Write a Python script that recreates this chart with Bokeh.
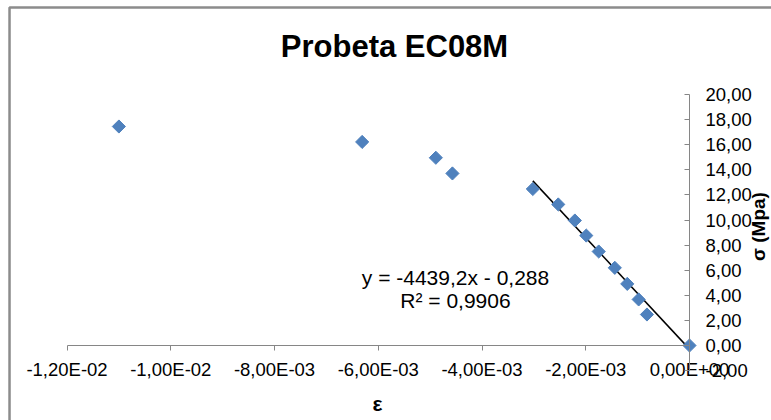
import math
from bokeh.plotting import figure
from bokeh.models import LinearAxis, FixedTicker, Label, Range1d
from bokeh.embed import file_html
from bokeh.resources import INLINE

# ---------------- data ----------------
title_text = "Probeta EC08M"
x_title = "ε"
y_title = "σ (Mpa)"

strain = [-0.01100, -0.00631, -0.00489, -0.00457, -0.00302, -0.00253, -0.00221,
          -0.00199, -0.00175, -0.00144, -0.00120, -0.00098, -0.00082, 0.0]
stress = [17.45, 16.22, 14.96, 13.71, 12.47, 11.24, 9.96,
          8.76, 7.49, 6.19, 4.91, 3.67, 2.47, 0.0]

# linear trendline (Excel) fitted on the last 10 points
fit_start = 4
slope = -4439.2
intercept = -0.288
eq_line1 = "y = -4439,2x - 0,288"
eq_line2 = "R² = 0,9906"

x_ticks = [-0.012, -0.010, -0.008, -0.006, -0.004, -0.002, 0.0]
x_tick_labels = ["-1,20E-02", "-1,00E-02", "-8,00E-03", "-6,00E-03",
                 "-4,00E-03", "-2,00E-03", "0,00E+00"]
y_ticks = [-2, 0, 2, 4, 6, 8, 10, 12, 14, 16, 18, 20]
y_tick_labels = ["-2,00", "0,00", "2,00", "4,00", "6,00", "8,00", "10,00",
                 "12,00", "14,00", "16,00", "18,00", "20,00"]

# ---------------- styling ----------------
FONT = "Liberation Sans"
AXIS_GRAY = "#868686"
BLUE = "#4F81BD"

# frame covers whole canvas: 0 at x=689px, 51875 px per unit strain;
# y = 0 at 345px from top, 12.55 px per MPa
p = figure(width=771, height=420, output_backend="svg", toolbar_location=None,
           x_range=Range1d(-0.013282, 0.0015807), y_range=Range1d(-5.976, 27.49),
           x_axis_location=None, y_axis_location=None,
           min_border=0, min_border_left=0, min_border_right=0,
           min_border_top=0, min_border_bottom=0)
p.outline_line_color = None
p.xgrid.visible = False
p.ygrid.visible = False
p.background_fill_color = "white"
p.border_fill_color = "white"

# chart area border (only top/left edges visible in the window)
p.quad(left=[-0.013108], right=[0.01], top=[26.93], bottom=[-100],
       fill_color=None, line_color="#8c8c8c", line_width=2.5)

xaxis = LinearAxis(ticker=FixedTicker(ticks=x_ticks),
                   major_label_overrides=dict(zip(x_ticks, x_tick_labels)),
                   fixed_location=0, bounds=(-0.012, 0.0),
                   axis_line_color=AXIS_GRAY, major_tick_line_color=AXIS_GRAY,
                   major_tick_out=5, major_tick_in=0,
                   minor_tick_line_color=None,
                   major_label_text_font=FONT, major_label_text_font_size="18.5px",
                   major_label_text_color="black", major_label_standoff=8)
p.add_layout(xaxis, "below")

yaxis = LinearAxis(ticker=FixedTicker(ticks=y_ticks),
                   major_label_overrides=dict(zip(y_ticks, y_tick_labels)),
                   fixed_location=0, bounds=(-2, 20),
                   axis_line_color=AXIS_GRAY, major_tick_line_color=AXIS_GRAY,
                   major_tick_out=0, major_tick_in=5,
                   minor_tick_line_color=None,
                   major_label_text_font=FONT, major_label_text_font_size="18.5px",
                   major_label_text_color="black", major_label_standoff=16)
p.add_layout(yaxis, "right")

# trendline
fx = strain[fit_start:]
tx = [min(fx), max(fx)]
ty = [slope * v + intercept for v in tx]
p.line(tx, ty, line_color="black", line_width=1.5)

# points (diamonds)
p.scatter(strain, stress, marker="square", angle=math.pi / 4, size=9.3,
          fill_color=BLUE, line_color=BLUE)

# texts
p.add_layout(Label(x=-0.005687, y=23.82, text=title_text, text_align="center",
                   text_baseline="middle", text_font=FONT, text_font_style="bold",
                   text_font_size="31px", text_color="black"))
p.add_layout(Label(x=-0.006015, y=-4.62, text=x_title, text_align="center",
                   text_baseline="middle", text_font=FONT, text_font_style="bold",
                   text_font_size="21px", text_color="black"))
p.add_layout(Label(x=0.001330, y=9.48, text=y_title, angle=math.pi / 2,
                   text_align="center", text_baseline="middle", text_font=FONT,
                   text_font_style="bold", text_font_size="19px", text_color="black"))
p.add_layout(Label(x=-0.004511, y=5.42, text=eq_line1, text_align="center",
                   text_baseline="middle", text_font=FONT, text_font_size="21px",
                   text_color="black"))
p.add_layout(Label(x=-0.004511, y=3.59, text=eq_line2, text_align="center",
                   text_baseline="middle", text_font=FONT, text_font_size="21px",
                   text_color="black"))

open("out.html", "w").write(file_html(p, INLINE))
